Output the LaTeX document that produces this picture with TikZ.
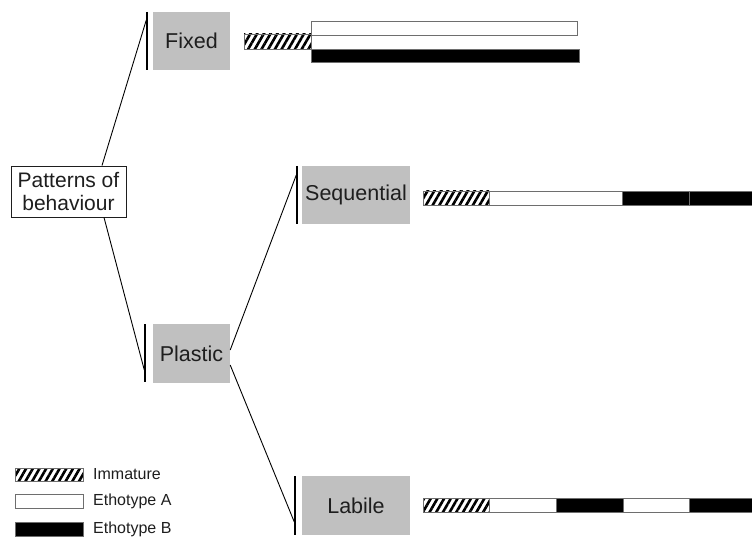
\documentclass[tikz,border=0pt]{standalone}
\usepackage{fontspec}
\setmainfont{Liberation Sans}
\usetikzlibrary{calc,patterns.meta}
\definecolor{boxgray}{RGB}{192,192,192}
\definecolor{txt}{RGB}{30,30,30}
\definecolor{edge}{RGB}{110,110,110}
\begin{document}
\begin{tikzpicture}[x=1pt,y=-1pt,
  catbox/.style={rectangle,fill=boxgray,inner sep=0pt,text=txt,font=\fontsize{21.5}{23}\selectfont},
  rootbox/.style={rectangle,draw=txt,line width=0.9pt,fill=white,inner sep=0pt,text=txt,align=center,font=\fontsize{21}{23.5}\selectfont,minimum width=115pt,minimum height=51pt},
  bar/.style={line width=1.5pt,black},
  conn/.style={line width=0.9pt,black},
  hatchseg/.style={draw=edge,line width=0.7pt,pattern={Lines[angle=60,distance=5.8pt,line width=2.6pt]}},
  whiteseg/.style={draw=edge,line width=0.7pt,fill=white},
  blackseg/.style={draw=edge,line width=0.7pt,fill=black},
  legtext/.style={anchor=west,inner sep=0pt,text=txt,font=\fontsize{16}{17}\selectfont}]
\useasboundingbox (0,0) rectangle (752,537);

% category nodes
\node[rootbox] (pat) at (68.5,191.5) {Patterns of\\behaviour};
\node[catbox,minimum width=77pt,minimum height=58pt] (fixed) at (191.5,41) {Fixed};
\node[catbox,minimum width=77pt,minimum height=59pt] (plastic) at (191.5,353.5) {Plastic};
\node[catbox,minimum width=108pt,minimum height=58pt] (seq) at (356,195) {Sequential};
\node[catbox,minimum width=108pt,minimum height=59pt] (lab) at (356,505.5) {Labile};

% vertical bars
\coordinate (fbT) at (147,12);  \coordinate (fbB) at (147,70);
\coordinate (pbT) at (145,324); \coordinate (pbB) at (145,382);
\coordinate (sbT) at (297,166); \coordinate (sbB) at (297,224);
\coordinate (lbT) at (295,476); \coordinate (lbB) at (295,535);
\draw[bar] (fbT) -- (fbB);
\draw[bar] (pbT) -- (pbB);
\draw[bar] (sbT) -- (sbB);
\draw[bar] (lbT) -- (lbB);

% connector end points on bars
\coordinate (fE) at (146.3,20);
\coordinate (pE) at (144.3,370);
\coordinate (sE) at (296.3,175);
\coordinate (lE) at (294.3,522);

% connectors
\draw[conn] ($(pat.north)+(33.5,0)$) -- (fE);
\draw[conn] ($(pat.south)+(35.5,0)$) -- (pE);
\draw[conn] ($(plastic.east)+(0,-3.5)$) -- (sE);
\draw[conn] ($(plastic.east)+(0,11.5)$) -- (lE);

% Fixed bars
\draw[hatchseg] (244,34) rectangle (311,49);
\draw[whiteseg] (311,21) rectangle (577,35);
\draw[blackseg] (311,49) rectangle (579,62);

% Sequential bar
\draw[hatchseg] (423,191) rectangle (489,205);
\draw[whiteseg] (489,191) rectangle (622,205);
\draw[blackseg] (622,191) rectangle (689,205);
\draw[blackseg] (689,191) rectangle (756,205);

% Labile bar
\draw[hatchseg] (423,498) rectangle (489,512);
\draw[whiteseg] (489,498) rectangle (556,512);
\draw[blackseg] (556,498) rectangle (623,512);
\draw[whiteseg] (623,498) rectangle (689,512);
\draw[blackseg] (689,498) rectangle (756,512);

% legend
\draw[hatchseg] (15,468) rectangle (83,481);
\draw[whiteseg] (15,494) rectangle (83,508);
\draw[blackseg] (15,522) rectangle (83,536);
\node[legtext] (l1) at (93,474.5) {Immature};
\node[legtext] (l2) at (93,501.5) {Ethotype A};
\node[legtext] (l3) at (93,529) {Ethotype B};
\end{tikzpicture}
\end{document}
